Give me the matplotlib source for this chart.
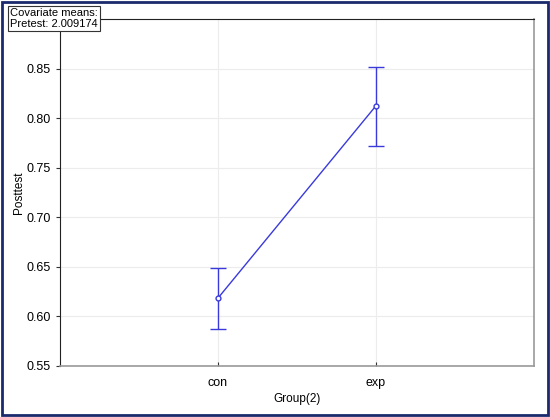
import matplotlib.pyplot as plt
from matplotlib.patches import Rectangle

plt.rcParams["font.family"] = ["Liberation Sans", "DejaVu Sans"]

groups = ["con", "exp"]
means = [0.6185, 0.8125]
upper = [0.649, 0.852]
lower = [0.587, 0.772]
covariate_note = "Covariate means:\nPretest: 2.009174"

blue = "#3a3adc"

fig = plt.figure(figsize=(5.5, 4.17), dpi=100)
ax = fig.add_axes([60 / 550, 1 - 366 / 417, 474 / 550, 347 / 417])

x = list(range(len(groups)))
err_lo = [m - lo for m, lo in zip(means, lower)]
err_hi = [hi - m for m, hi in zip(means, upper)]
ax.errorbar(x, means, yerr=[err_lo, err_hi], color=blue, lw=1.0,
            marker="o", ms=3.5, mfc="white", mec=blue, mew=1.0,
            capsize=6, capthick=1.0, elinewidth=1.0, zorder=3)

ax.set_xlim(-1, 2)
ax.set_ylim(0.55, 0.90)
ax.set_xticks(x)
ax.set_xticklabels(groups)
ax.set_yticks([0.55, 0.60, 0.65, 0.70, 0.75, 0.80, 0.85])
ax.set_yticklabels([f"{v:.2f}" for v in ax.get_yticks()])
ax.grid(True, color="#ececec", lw=0.8)
ax.set_axisbelow(True)
ax.tick_params(labelsize=9, length=3, width=0.8, color="#333333")
ax.tick_params(axis="x", direction="in", pad=8)
ax.set_xlabel("Group(2)", fontsize=8.5)
ax.set_ylabel("Posttest", fontsize=8.5)
ax.xaxis.set_label_coords(0.5, -0.077)
ax.yaxis.set_label_coords(-0.074, 0.5)
for side in ["left", "top"]:
    ax.spines[side].set_color("#222222")
for side in ["right", "bottom"]:
    ax.spines[side].set_color("#999999")
    ax.spines[side].set_linewidth(1.2)

fig.text(10 / 550, 1 - 8 / 417, covariate_note, fontsize=8, va="top", ha="left",
         linespacing=1.15,
         bbox=dict(boxstyle="square,pad=0.2", fc="white", ec="#333333", lw=0.8))

fig.patches.append(Rectangle((0.004, 0.005), 0.992, 0.99, transform=fig.transFigure,
                             fill=False, ec="#1a2a6c", lw=2.0))

fig.savefig("out.png", dpi=100, facecolor="white")
